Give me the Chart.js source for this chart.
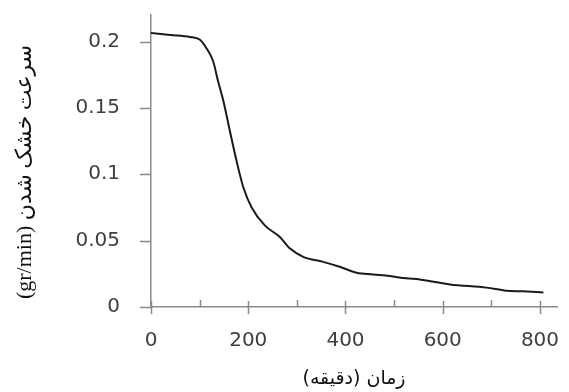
<!DOCTYPE html>
<html>
<head>
<meta charset="utf-8">
<script src="https://cdn.jsdelivr.net/npm/chart.js@4.4.0/dist/chart.umd.min.js"></script>
<style>
  html, body { margin: 0; padding: 0; background: #fff; }
  #wrap { width: 569px; height: 392px; }
</style>
</head>
<body>
<div id="wrap"><canvas id="dryChart" dir="rtl"></canvas></div>
<script>
// زمان (دقیقه) و سرعت خشک شدن
const timeMin = [0, 40, 80, 100, 114, 128, 138, 149, 162, 176, 190, 207, 234, 265, 286, 313, 354, 388, 423, 457, 491, 525, 553, 615, 690, 731, 765, 807];
const dryRate = [0.2065, 0.205, 0.2035, 0.2015, 0.195, 0.185, 0.170, 0.155, 0.133, 0.110, 0.090, 0.075, 0.0615, 0.0528, 0.044, 0.0378, 0.034, 0.0303, 0.0258, 0.0245, 0.0233, 0.0216, 0.0208, 0.017, 0.0146, 0.0123, 0.0118, 0.011];
const xLabels = [0, 200, 400, 600, 800];
const yLabels = [0, 0.05, 0.1, 0.15, 0.2];

const points = timeMin.map((t, i) => ({ x: t, y: dryRate[i] }));

// tick marks drawn by hand: major ones cross the axis, minor ones inside
const tickMarks = {
  id: "tickMarks",
  afterDraw(chart) {
    const ctx = chart.ctx;
    const xs = chart.scales.x;
    const ys = chart.scales.y;
    ctx.save();
    ctx.strokeStyle = "#8a8a8a";
    ctx.lineWidth = 1.5;
    ctx.beginPath();
    xs.ticks.forEach((t) => {
      const px = Math.round(xs.getPixelForValue(t.value)) + 0.5;
      if (xLabels.includes(t.value)) {
        ctx.moveTo(px, xs.top - 6);
        ctx.lineTo(px, xs.top + 7);
      } else {
        ctx.moveTo(px, xs.top - 7);
        ctx.lineTo(px, xs.top);
      }
    });
    ys.ticks.forEach((t) => {
      const py = Math.round(ys.getPixelForValue(t.value)) + 0.5;
      ctx.moveTo(ys.right - 11, py);
      ctx.lineTo(ys.right, py);
    });
    ctx.stroke();
    ctx.restore();
  },
};

const ctx = document.getElementById("dryChart").getContext("2d");
new Chart(ctx, {
  type: "scatter",
  data: {
    datasets: [
      {
        data: points,
        showLine: true,
        borderColor: "#1a1a1a",
        borderWidth: 2,
        pointRadius: 0,
        cubicInterpolationMode: "monotone",
        fill: false,
      },
    ],
  },
  options: {
    responsive: true,
    maintainAspectRatio: false,
    animation: false,
    layout: { padding: { top: 15, right: 12, left: 0, bottom: 0 } },
    plugins: {
      legend: { display: false },
      tooltip: { enabled: false },
    },
    scales: {
      x: {
        type: "linear",
        min: 0,
        max: 835,
        afterFit: (scale) => {
          scale.height = 85;
          scale.paddingLeft = 0;
          scale.paddingRight = 0;
        },
        grid: { drawOnChartArea: false, drawTicks: false },
        border: { color: "#8a8a8a", width: 1.5 },
        ticks: {
          stepSize: 100,
          includeBounds: false,
          autoSkip: false,
          maxRotation: 0,
          padding: 22,
          color: "#404040",
          font: { family: "DejaVu Sans", size: 20 },
          callback: (v) => (xLabels.includes(v) ? String(v) : ""),
        },
        title: {
          display: true,
          text: "زمان (دقیقه)",
          color: "#111",
          font: { family: "DejaVu Sans", size: 19 },
          padding: { top: 0, bottom: 2 },
        },
      },
      y: {
        min: 0,
        max: 0.22,
        afterFit: (scale) => {
          scale.width = 151;
          scale.paddingTop = 0;
          scale.paddingBottom = 0;
        },
        grid: { drawOnChartArea: false, drawTicks: false },
        border: { color: "#8a8a8a", width: 1.5 },
        ticks: {
          stepSize: 0.05,
          includeBounds: false,
          padding: 31,
          color: "#404040",
          font: { family: "DejaVu Sans", size: 20 },
          callback: (v) => String(parseFloat(v.toFixed(2))),
        },
        title: {
          display: true,
          text: "    سرعت خشک شدن (gr/min)",
          color: "#111",
          font: { family: "Liberation Serif, DejaVu Sans", size: 22 },
          padding: { top: 12, bottom: 0 },
        },
      },
    },
  },
  plugins: [tickMarks],
});
</script>
</body>
</html>
